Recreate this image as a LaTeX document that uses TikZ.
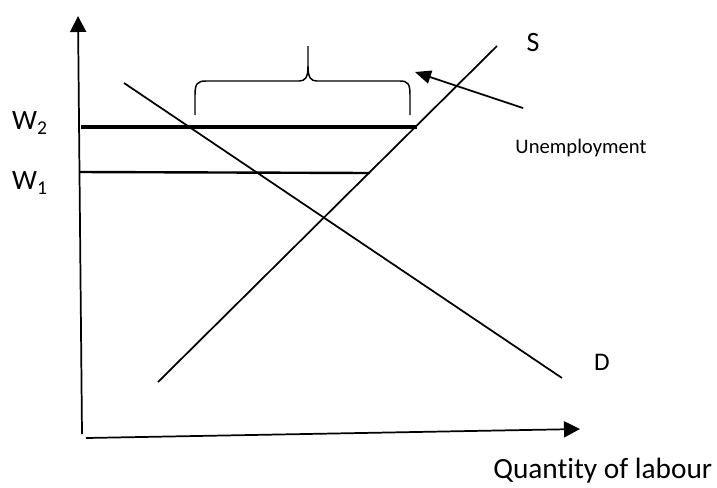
\documentclass[tikz,border=0pt]{standalone}
\usepackage{fontspec}
\setmainfont{Carlito}[Ligatures=CommonOff]
\usetikzlibrary{arrows.meta}

\begin{document}
\begin{tikzpicture}[
    x=0.75pt, y=-0.75pt,
    axis/.style={line width=1.3pt, -{Triangle[length=12pt, width=12pt]}},
    curve/.style={line width=1.3pt},
    wage/.style={line width=1.8pt},
    wagehigh/.style={line width=3pt},
    pointer/.style={line width=1.3pt, -{Triangle[length=12pt, width=10pt]}},
    lbl/.style={font=\fontsize{21}{24}\selectfont, inner sep=0pt}
]
\useasboundingbox (0,0) rectangle (717,487);
% axes
\coordinate (ybot) at (82,434);
\coordinate (ytop) at (78,16);
\coordinate (xleft) at (86,438);
\coordinate (xright) at (580,429);
\draw[axis] (ybot) -- (ytop);
\draw[axis] (xleft) -- (xright);
% demand and supply
\coordinate (dstart) at (124,83);
\coordinate (dend) at (562,378);
\coordinate (sstart) at (158,382);
\coordinate (send) at (497,46);
\draw[curve] (dstart) -- (dend);
\draw[curve] (sstart) -- (send);
% wage levels
\coordinate (wtwoa) at (81,127);
\coordinate (wtwob) at (417,127);
\coordinate (wonea) at (80,172);
\coordinate (woneb) at (370,173);
\draw[wagehigh] (wtwoa) -- (wtwob);
\draw[wage] (wonea) -- (woneb);
\node[lbl] (wtwo) at (30,123) {W\textsubscript{2}};
\node[lbl] (wone) at (30,183) {W\textsubscript{1}};
% brace over the gap
\draw[line width=1.1pt] (195,115) -- (195,95) .. controls (195,84) and (197,81) .. (206,81)
    -- (299,81) .. controls (305,81) and (308,78) .. (308,66) -- (308,46)
    (308,66) .. controls (308,78) and (311,81) .. (317,81)
    -- (400,81) .. controls (408,81) and (410,84) .. (410,95) -- (410,115);
% labels
\node[lbl] (slbl) at (533,43) {S};
\node[lbl, font=\fontsize{19}{22}\selectfont] (dlbl) at (602,362) {D};
\node[lbl, font=\fontsize{22}{26}\selectfont, anchor=base west] (qlbl) at (493,478) {Quantity of labour};
\node[inner sep=0pt, font=\fontsize{15.5}{18}\selectfont] (unemp) at (581,148) {Unemployment};
\coordinate (ptail) at (523,108);
\coordinate (phead) at (415,72);
\draw[pointer] (ptail) -- (phead);
\end{tikzpicture}
\end{document}
